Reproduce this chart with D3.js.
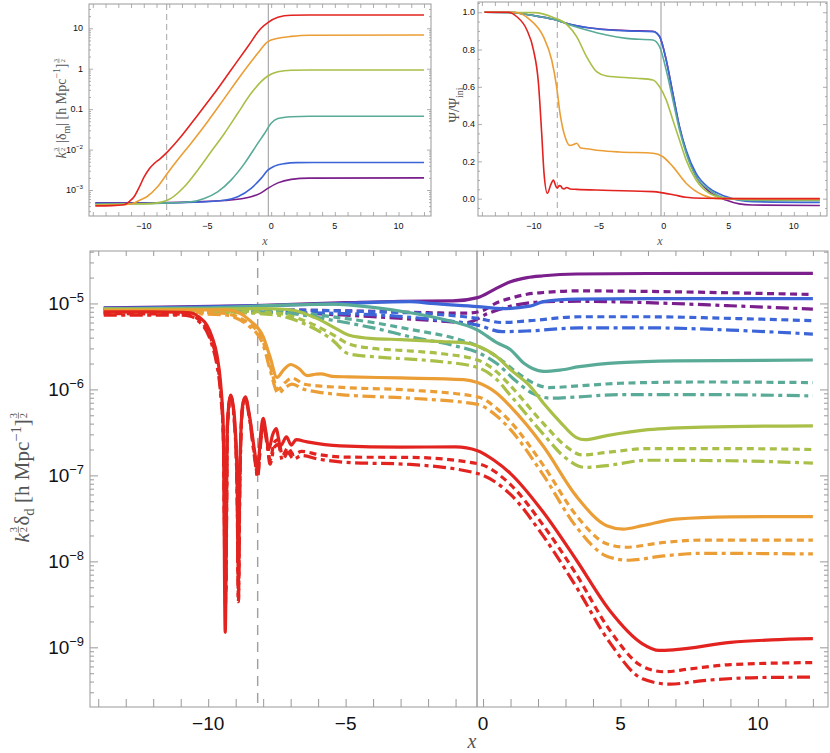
<!DOCTYPE html>
<html>
<head>
<meta charset="utf-8">
<script src="https://cdnjs.cloudflare.com/ajax/libs/d3/7.8.5/d3.min.js"></script>
<style>
  body { margin: 0; background: #fff; }
  svg { display: block; font-family: "Liberation Sans", Arial, sans-serif; }
  .tick line { stroke: #999; }
  .domain { display: none; }
  .math { font-family: "Liberation Serif", "Times New Roman", serif; fill: #555; white-space: pre; }
</style>
</head>
<body>
<svg id="chart" width="830" height="753"></svg>
<script>
// ---- data ----
const xDomain = [-14.3, 12.55];
const xRefDashed = -8.2;
const xRefSolid = -0.22;
const xTickValues = [-10, -5, 0, 5, 10];
const xTickLabels = ["\u221210", "\u22125", "0", "5", "10"];

// order: purple, blue, teal, green, orange, red
const colors = ["#7b1f8d", "#3c65d8", "#59ab98", "#a8bf48", "#eb9e36", "#e2231f"];

// top left: k^{3/2} |delta_m|
const dmPurple = [[-13.8,4.8e-4],[-10,4.8e-4],[-6,5.1e-4],[-3.67,5.5e-4],[-1.57,6.8e-4],[-0.79,8.5e-4],[-0.26,1.1e-3],[0.53,1.5e-3],[1.57,1.83e-3],[3,1.97e-3],[12,2.0e-3]];
const dmBlue = [[-13.8,4.7e-4],[-10,4.7e-4],[-6,5.0e-4],[-3.67,5.6e-4],[-2.62,6.8e-4],[-1.57,1.1e-3],[-0.79,1.94e-3],[-0.26,3.1e-3],[0.26,3.9e-3],[1.05,4.5e-3],[2,4.75e-3],[4,4.8e-3],[12,4.8e-3]];
const dmTeal = [[-13.8,4.5e-4],[-10,4.6e-4],[-8,4.8e-4],[-6.3,5.1e-4],[-5.25,6.2e-4],[-4.2,9e-4],[-3.15,1.76e-3],[-2.1,4.5e-3],[-1.05,1.42e-2],[-0.52,2.5e-2],[0,4.5e-2],[0.53,5.9e-2],[1.57,6.5e-2],[3,6.7e-2],[12,6.7e-2]];
const dmGreen = [[-13.8,4.3e-4],[-11,4.5e-4],[-9.5,4.6e-4],[-8.92,4.8e-4],[-7.87,6.2e-4],[-6.82,1.2e-3],[-5.77,3.1e-3],[-4.72,8.8e-3],[-3.67,2.5e-2],[-2.62,7.9e-2],[-1.57,0.246],[-0.79,0.48],[-0.26,0.66],[0.53,0.84],[1.57,0.92],[3,0.93],[12,0.93]];
const dmOrange = [[-13.8,4.2e-4],[-12,4.3e-4],[-11,4.5e-4],[-10.76,4.8e-4],[-10.2,5.8e-4],[-9.71,7.0e-4],[-8.92,1.2e-3],[-8.14,2.6e-3],[-7.35,5.5e-3],[-6.3,1.42e-2],[-4.99,4.9e-2],[-3.67,0.185],[-2.36,0.70],[-1.05,2.4],[-0.26,4.66],[0.53,5.65],[1.57,6.3],[3,6.75],[12,6.8]];
const dmRed = [[-13.8,4.05e-4],[-12.5,4.1e-4],[-11.55,4.3e-4],[-11.1,5.3e-4],[-10.76,6.8e-4],[-10.4,1.1e-3],[-9.97,2.1e-3],[-9.55,3.4e-3],[-9.19,4.5e-3],[-8.7,6.0e-3],[-8.14,8.8e-3],[-7.09,2.07e-2],[-5.77,7.1e-2],[-4.46,0.246],[-3.15,0.93],[-1.84,3.5],[-0.79,10],[-0.26,13.8],[0.53,18.7],[1.57,21.0],[3,21.3],[12,21.3]];

// top right: Psi / Psi_ini
const psiPurple = [[-13.8,1.0],[-11.5,0.998],[-10.29,0.985],[-8.5,0.962],[-7.23,0.935],[-5.95,0.918],[-4.93,0.91],[-2.88,0.902],[-0.84,0.898],[-0.33,0.87],[0.18,0.744],[0.69,0.565],[1.2,0.386],[1.71,0.255],[2.48,0.12],[3.5,0.038],[4.78,-0.007],[5.8,-0.028],[6.8,-0.034],[12,-0.037]];
const psiBlue = [[-13.8,1.0],[-11.5,0.998],[-10.29,0.985],[-8.5,0.962],[-7.23,0.935],[-5.95,0.918],[-4.93,0.909],[-2.88,0.90],[-0.84,0.896],[-0.33,0.869],[0.18,0.744],[0.69,0.565],[1.2,0.386],[1.71,0.261],[2.48,0.136],[3.5,0.056],[4.78,0.011],[6.8,-0.016],[12,-0.02]];
const psiTeal = [[-13.8,1.0],[-11.5,0.998],[-10.29,0.985],[-8.5,0.962],[-7.23,0.932],[-5.95,0.905],[-4.41,0.878],[-2.88,0.86],[-0.84,0.851],[-0.33,0.815],[0.18,0.69],[0.69,0.53],[1.2,0.369],[1.71,0.244],[2.48,0.118],[3.5,0.047],[4.78,0.002],[6.8,-0.01],[12,-0.01]];
const psiGreen = [[-13.8,1.0],[-10,0.998],[-8.5,0.972],[-7.48,0.935],[-6.71,0.869],[-5.95,0.762],[-5.18,0.681],[-4.41,0.658],[-2.11,0.646],[-0.84,0.637],[-0.33,0.60],[0.18,0.53],[0.69,0.422],[1.2,0.315],[1.71,0.208],[2.48,0.10],[3.5,0.029],[4.78,0.002],[6.8,-0.006],[12,-0.007]];
const psiOrange = [[-13.8,1.0],[-11.5,1.0],[-10.29,0.959],[-9.27,0.869],[-8.63,0.744],[-8.25,0.60],[-7.99,0.458],[-7.61,0.333],[-7.23,0.285],[-6.95,0.29],[-6.71,0.297],[-6.4,0.272],[-5.95,0.268],[-4.93,0.258],[-3.4,0.25],[-0.84,0.244],[-0.07,0.225],[0.69,0.172],[1.71,0.083],[2.99,0.02],[4.27,0.0],[12,-0.001]];
const psiRed = [[-13.8,1.0],[-12,1.0],[-11.31,0.976],[-10.54,0.905],[-10.04,0.80],[-9.65,0.62],[-9.4,0.35],[-9.22,0.136],[-8.96,0.029],[-8.7,0.075],[-8.5,0.10],[-8.3,0.065],[-8.2,0.056],[-8.05,0.07],[-7.94,0.068],[-7.8,0.055],[-7.68,0.052],[-7.48,0.06],[-7.2,0.052],[-6.71,0.050],[-4.67,0.045],[-0.84,0.038],[-0.07,0.031],[0.8,0.02],[1.71,0.0075],[3,0.002],[6,0.0],[12,0.0]];

// bottom: k^{3/2} delta_d, solid / dashed / dot-dashed
const ddPurpleSolid = [[-13.8,8.9e-6],[-11,9.1e-6],[-8,9.5e-6],[-5,1.02e-5],[-3,1.06e-5],[-1.1,1.07e-5],[-0.2,1.17e-5],[0.4,1.45e-5],[1,1.79e-5],[1.6,2.0e-5],[2.2,2.1e-5],[3.4,2.2e-5],[6,2.23e-5],[12,2.24e-5]];
const ddPurpleDash = [[-13.8,8.3e-6],[-8,8.4e-6],[-4,8.1e-6],[-2,7.8e-6],[-0.6,7.7e-6],[0,8.3e-6],[0.5,1.02e-5],[1.0,1.15e-5],[1.6,1.28e-5],[2.2,1.34e-5],[3.4,1.4e-5],[6,1.38e-5],[9,1.33e-5],[12,1.27e-5]];
const ddPurpleDot = [[-13.8,7.9e-6],[-8,7.9e-6],[-4,7.0e-6],[-2,6.4e-6],[-0.6,6.0e-6],[0.2,7.7e-6],[1.2,9.6e-6],[2.3,1.05e-5],[3.5,1.06e-5],[6,1.02e-5],[9,9.4e-6],[12,8.6e-6]];
const ddBlueSolid = [[-13.8,8.8e-6],[-11,9.0e-6],[-8,9.4e-6],[-5,1.0e-5],[-2.65,1.05e-5],[-1.9,1.0e-5],[-0.2,9.2e-6],[0.7,8.7e-6],[1.7,9.3e-6],[2.2,1.05e-5],[3.4,1.12e-5],[6,1.14e-5],[12,1.14e-5]];
const ddBlueDash = [[-13.8,8.4e-6],[-8,8.4e-6],[-4,8.0e-6],[-2,7.6e-6],[-0.2,6.7e-6],[0.7,6.0e-6],[1.7,6.3e-6],[3.5,7.0e-6],[6,7.0e-6],[9,6.7e-6],[12,6.3e-6]];
const ddBlueDot = [[-13.8,8.0e-6],[-8,7.9e-6],[-4,7.4e-6],[-2,6.6e-6],[-0.2,5.6e-6],[0.7,4.7e-6],[1.7,4.8e-6],[3.5,5.2e-6],[6,5.2e-6],[9,4.9e-6],[12,4.4e-6]];
const ddTealSolid = [[-13.8,8.7e-6],[-10,8.9e-6],[-7,9.6e-6],[-5.5,9.8e-6],[-4,9.0e-6],[-2.65,7.8e-6],[-1.5,6.6e-6],[-0.2,4.9e-6],[0.5,3.5e-6],[1.0,2.9e-6],[1.5,2.0e-6],[1.8,1.75e-6],[2.2,1.62e-6],[2.8,1.68e-6],[3.5,1.84e-6],[5,2.05e-6],[7,2.15e-6],[12,2.2e-6]];
const ddTealDash = [[-13.8,8.3e-6],[-9,8.3e-6],[-7,8.0e-6],[-5.5,7.0e-6],[-4,6.0e-6],[-2.65,5.0e-6],[-1,3.9e-6],[-0.2,3.2e-6],[0.5,2.4e-6],[1.2,1.6e-6],[1.8,1.2e-6],[2.4,1.05e-6],[3.5,1.1e-6],[5,1.18e-6],[8,1.22e-6],[12,1.2e-6]];
const ddTealDot = [[-13.8,8.0e-6],[-9,8.0e-6],[-7,7.6e-6],[-5.5,6.4e-6],[-4,5.2e-6],[-2.65,4.1e-6],[-1,3.2e-6],[-0.2,2.7e-6],[0.5,2.0e-6],[1.2,1.25e-6],[1.8,9.0e-7],[2.5,7.9e-7],[3.5,8.2e-7],[5,8.7e-7],[8,8.7e-7],[12,8.4e-7]];
const ddGreenSolid = [[-13.8,8.6e-6],[-10,8.6e-6],[-8,8.7e-6],[-7.1,8.5e-6],[-6.05,6.7e-6],[-5.3,5.0e-6],[-4.9,4.3e-6],[-4,3.9e-6],[-3,3.8e-6],[-1.5,3.6e-6],[-0.7,3.5e-6],[-0.2,3.2e-6],[0.5,2.4e-6],[1.0,1.7e-6],[1.7,1.1e-6],[2.2,6.9e-7],[2.8,4.2e-7],[3.4,2.75e-7],[3.7,2.6e-7],[4.5,2.9e-7],[6,3.4e-7],[8,3.65e-7],[12,3.77e-7]];
const ddGreenDash = [[-13.8,8.1e-6],[-9,8.1e-6],[-7.5,7.7e-6],[-6.5,6.3e-6],[-5.5,4.4e-6],[-4.9,3.4e-6],[-4,3.0e-6],[-3,2.85e-6],[-1.5,2.6e-6],[-0.2,2.2e-6],[0.5,1.6e-6],[1.0,1.1e-6],[2.2,4.0e-7],[3.0,2.2e-7],[3.6,1.73e-7],[4.5,1.85e-7],[6,2.05e-7],[9,2.05e-7],[12,2.0e-7]];
const ddGreenDot = [[-13.8,7.8e-6],[-9,7.8e-6],[-7.5,7.3e-6],[-6.5,5.8e-6],[-5.5,3.8e-6],[-4.9,2.6e-6],[-4,2.4e-6],[-2.65,2.25e-6],[-1.5,2.1e-6],[-0.2,1.8e-6],[0.5,1.3e-6],[1.0,8.5e-7],[2.2,3.0e-7],[3.0,1.6e-7],[3.7,1.24e-7],[4.5,1.3e-7],[6,1.5e-7],[9,1.48e-7],[12,1.39e-7]];
const ddOrangeSolid = [[-13.8,8.3e-6],[-11,8.4e-6],[-9.3,8.4e-6],[-8.5,6.4e-6],[-8,4.1e-6],[-7.75,2.4e-6],[-7.5,1.38e-6],[-7.25,1.7e-6],[-7.0,1.95e-6],[-6.7,1.75e-6],[-6.4,1.45e-6],[-6.1,1.5e-6],[-5.9,1.52e-6],[-5.5,1.42e-6],[-4.9,1.4e-6],[-3,1.36e-6],[-0.7,1.3e-6],[-0.2,1.2e-6],[0.5,9.0e-7],[1.0,6.3e-7],[2.2,2.17e-7],[3.4,5.7e-8],[4.5,2.6e-8],[5.1,2.37e-8],[5.8,2.6e-8],[7,3.1e-8],[9,3.3e-8],[12,3.32e-8]];
const ddOrangeDash = [[-13.8,7.9e-6],[-11,7.9e-6],[-9.5,7.7e-6],[-8.5,5.8e-6],[-8,3.6e-6],[-7.75,1.9e-6],[-7.45,1.0e-6],[-7.2,1.2e-6],[-6.95,1.35e-6],[-6.5,1.15e-6],[-6.0,1.1e-6],[-5,1.05e-6],[-2.65,9.8e-7],[-0.2,8.2e-7],[0.5,6.0e-7],[1.0,4.2e-7],[2.2,1.3e-7],[3.4,3.4e-8],[4.5,1.6e-8],[5.2,1.46e-8],[6.5,1.65e-8],[8,1.77e-8],[12,1.77e-8]];
const ddOrangeDot = [[-13.8,7.6e-6],[-11,7.6e-6],[-9.5,7.4e-6],[-8.5,5.4e-6],[-8,3.3e-6],[-7.75,1.7e-6],[-7.45,9.0e-7],[-7.2,1.05e-6],[-6.95,1.15e-6],[-6.5,1.0e-6],[-6.0,9.3e-7],[-5,8.6e-7],[-2.65,7.9e-7],[-0.2,6.7e-7],[0.5,4.9e-7],[1.0,3.4e-7],[2.2,1.0e-7],[3.4,2.5e-8],[4.5,1.15e-8],[5.3,1.03e-8],[6.5,1.15e-8],[8,1.24e-8],[12,1.22e-8]];
const ddRedSolid = [[-13.8,8.0e-6],[-12,8.0e-6],[-11,7.9e-6],[-10.65,7.8e-6],[-10.3,6.8e-6],[-10.05,5.6e-6],[-9.85,4.0e-6],[-9.68,2.5e-6],[-9.55,1.2e-6],[-9.45,3.5e-7],[-9.38,1.5e-9],[-9.3,4.0e-7],[-9.18,8.6e-7],[-9.05,5.0e-7],[-8.95,1.0e-7],[-8.9,6e-9],[-8.85,1.0e-7],[-8.75,6.5e-7],[-8.65,8.2e-7],[-8.5,5.0e-7],[-8.3,1.8e-7],[-8.2,1.15e-7],[-8.1,2.8e-7],[-8.0,4.6e-7],[-7.9,3.2e-7],[-7.8,2.0e-7],[-7.65,3.0e-7],[-7.53,3.5e-7],[-7.37,2.2e-7],[-7.15,2.8e-7],[-6.98,2.25e-7],[-6.8,2.6e-7],[-6.4,2.45e-7],[-5.2,2.2e-7],[-3,2.13e-7],[-1,2.15e-7],[-0.2,1.94e-7],[0.4,1.5e-7],[1,1.05e-7],[2.2,3.7e-8],[3.4,1.03e-8],[4.6,2.7e-9],[5.8,1.1e-9],[6.4,9.2e-10],[7,9.4e-10],[9,1.14e-9],[10.5,1.22e-9],[12,1.26e-9]];
const ddRedDash = [[-13.8,7.6e-6],[-11,7.5e-6],[-10.65,7.3e-6],[-10.3,6.3e-6],[-10.05,5.0e-6],[-9.85,3.5e-6],[-9.68,2.1e-6],[-9.55,1.0e-6],[-9.45,3.0e-7],[-9.37,3e-9],[-9.3,3.8e-7],[-9.18,8.4e-7],[-9.05,4.5e-7],[-8.95,8e-8],[-8.9,3.4e-9],[-8.85,8e-8],[-8.75,6.3e-7],[-8.65,8.0e-7],[-8.5,4.8e-7],[-8.3,1.6e-7],[-8.2,1.0e-7],[-8.1,2.4e-7],[-8.0,4.0e-7],[-7.85,2.4e-7],[-7.75,1.5e-7],[-7.6,2.4e-7],[-7.45,2.6e-7],[-7.3,1.7e-7],[-7.1,2.1e-7],[-6.9,1.75e-7],[-6.6,1.9e-7],[-6,1.75e-7],[-5,1.63e-7],[-2.65,1.62e-7],[-0.2,1.37e-7],[1,7.8e-8],[2.2,2.6e-8],[3.4,7.0e-9],[4.6,1.6e-9],[5.8,6.0e-10],[6.6,5.2e-10],[7.5,5.6e-10],[9,6.3e-10],[12,6.65e-10]];
const ddRedDot = [[-13.8,7.3e-6],[-11,7.3e-6],[-10.65,7.1e-6],[-10.3,6.0e-6],[-10.05,4.7e-6],[-9.85,3.2e-6],[-9.68,1.9e-6],[-9.55,9.0e-7],[-9.45,2.7e-7],[-9.36,4e-9],[-9.3,3.6e-7],[-9.18,8.2e-7],[-9.05,4.2e-7],[-8.95,7e-8],[-8.9,3.4e-9],[-8.85,7e-8],[-8.75,6.0e-7],[-8.65,7.8e-7],[-8.5,4.6e-7],[-8.3,1.5e-7],[-8.2,9.5e-8],[-8.1,2.2e-7],[-8.0,3.7e-7],[-7.85,2.2e-7],[-7.75,1.35e-7],[-7.6,2.1e-7],[-7.45,2.3e-7],[-7.3,1.5e-7],[-7.1,1.85e-7],[-6.9,1.55e-7],[-6.6,1.7e-7],[-6,1.55e-7],[-5,1.42e-7],[-2.65,1.34e-7],[-0.2,1.05e-7],[1,6.0e-8],[2.2,1.95e-8],[3.4,5.0e-9],[4.6,1.15e-9],[5.8,4.3e-10],[6.8,3.73e-10],[8,4.1e-10],[10,4.45e-10],[12,4.5e-10]];

// ---- drawing ----
const svg = d3.select("#chart");
const dashStyle = { solid: null, dash: "7,4.5", dot: "13,4.5,4,4.5" };

function supLabel(sel, x, y, base, exp, size, anchor) {
  const t = sel.append("text").attr("x", x).attr("y", y)
    .attr("text-anchor", anchor).style("font-size", size + "px").attr("fill", "#111");
  t.append("tspan").text(base);
  if (exp) t.append("tspan").attr("dy", -size * 0.42).style("font-size", (size * 0.68) + "px").text(exp);
  return t;
}

// math label made of pieces laid out left to right, then rotated
function mathLabel(g, pieces, size) {
  let cx = 0;
  pieces.forEach(p => {
    if (p.frac) {
      const fs = size * 0.5;
      const top = -size * 0.58;
      const a = g.append("text").attr("class", "math").attr("y", top).style("font-size", fs + "px").text(p.frac[0]);
      const b = g.append("text").attr("class", "math").attr("y", top + fs * 0.95).style("font-size", fs + "px").text(p.frac[1]);
      const w = Math.max(a.node().getComputedTextLength(), b.node().getComputedTextLength()) + 1;
      a.attr("x", cx + 1);
      b.attr("x", cx + 1);
      g.append("line").attr("x1", cx + 0.5).attr("x2", cx + w + 0.5)
        .attr("y1", top + fs * 0.15).attr("y2", top + fs * 0.15)
        .attr("stroke", "#555").attr("stroke-width", Math.max(0.6, size / 30));
      cx += w + 1.5;
    } else {
      const fs = size * (p.s || 1);
      const t = g.append("text").attr("class", "math").attr("xml:space", "preserve")
        .attr("x", cx).attr("y", (p.dy || 0) * size)
        .style("font-size", fs + "px").style("font-style", p.it ? "italic" : "normal").text(p.t);
      cx += t.node().getComputedTextLength();
    }
  });
  return cx;
}

function logTicks(domain) {
  const major = [], minor = [];
  const lo = Math.floor(Math.log10(domain[0])), hi = Math.ceil(Math.log10(domain[1]));
  for (let k = lo; k <= hi; k++) {
    for (let j = 1; j <= 9; j++) {
      const v = j * Math.pow(10, k);
      if (v < domain[0] || v > domain[1]) continue;
      (j === 1 ? major : minor).push(v);
    }
  }
  return { major, minor };
}

function drawPanel(cfg) {
  const x = cfg.x, y = cfg.y;
  const [L, R] = x.range(), [B, T] = y.range();
  const g = svg.append("g");
  const clipId = "clip-" + cfg.id;
  svg.append("clipPath").attr("id", clipId).append("rect")
    .attr("x", L).attr("y", T).attr("width", R - L).attr("height", B - T);

  // reference lines
  g.append("line").attr("x1", x(xRefDashed)).attr("x2", x(xRefDashed)).attr("y1", T).attr("y2", B)
    .attr("stroke", "#a0a0a0").attr("stroke-width", cfg.refW * 0.8).attr("stroke-dasharray", cfg.refDash);
  g.append("line").attr("x1", x(xRefSolid)).attr("x2", x(xRefSolid)).attr("y1", T).attr("y2", B)
    .attr("stroke", "#ababab").attr("stroke-width", cfg.refW);

  // curves
  const line = d3.line().x(d => x(d[0])).y(d => y(d[1])).curve(d3.curveMonotoneX);
  const cg = g.append("g").attr("clip-path", "url(#" + clipId + ")");
  cfg.series.forEach(s => {
    cg.append("path").attr("d", line(s.data)).attr("fill", "none")
      .attr("stroke", s.color).attr("stroke-width", cfg.lw)
      .attr("stroke-dasharray", dashStyle[s.style || "solid"])
      .attr("stroke-linejoin", "round");
  });

  // frame
  g.append("rect").attr("x", L).attr("y", T).attr("width", R - L).attr("height", B - T)
    .attr("fill", "none").attr("stroke", "#999").attr("stroke-width", 1);

  // x ticks (inward, bottom and top)
  const xMajor = d3.range(Math.ceil(xDomain[0]), Math.floor(xDomain[1]) + 1);
  g.append("g").attr("transform", "translate(0," + B + ")")
    .call(d3.axisBottom(x).tickValues(xMajor).tickSize(-cfg.xt[0]).tickFormat(""));
  g.append("g").attr("transform", "translate(0," + T + ")")
    .call(d3.axisTop(x).tickValues(xMajor).tickSize(-cfg.xt[1]).tickFormat(""));

  // y ticks
  let yMajor, yMinor;
  if (cfg.log) { const t = logTicks(y.domain()); yMajor = t.major; yMinor = t.minor; }
  else { yMajor = cfg.yMajor; yMinor = cfg.yMinor; }
  [[d3.axisLeft, L], [d3.axisRight, R]].forEach(([ax, pos]) => {
    g.append("g").attr("transform", "translate(" + pos + ",0)")
      .call(ax(y).tickValues(yMajor).tickSize(-cfg.yt[0]).tickFormat(""));
    g.append("g").attr("transform", "translate(" + pos + ",0)")
      .call(ax(y).tickValues(yMinor).tickSize(-cfg.yt[1]).tickFormat(""));
  });
  g.selectAll(".tick line").attr("stroke", "#999").attr("stroke-width", cfg.tw);

  // tick labels
  xTickValues.forEach((v, i) => {
    g.append("text").attr("x", x(v)).attr("y", cfg.xLabY).attr("text-anchor", "middle")
      .style("font-size", cfg.fs + "px").attr("fill", "#111").text(xTickLabels[i]);
  });
  cfg.yLabels.forEach(d => {
    supLabel(g, L - cfg.yLabGap, y(d.v) + cfg.fs * 0.35, d.base, d.exp, cfg.fs, "end");
  });

  // x axis title
  g.append("text").attr("class", "math").attr("x", cfg.xTitle[0]).attr("y", cfg.xTitle[1])
    .attr("text-anchor", "middle").style("font-size", cfg.xTitle[2] + "px").style("font-style", "italic").text("x");

  // y axis title
  const tg = g.append("g");
  const w = mathLabel(tg, cfg.yTitle.pieces, cfg.yTitle.size);
  tg.attr("transform", "translate(" + cfg.yTitle.x + "," + (cfg.yTitle.y + w / 2) + ") rotate(-90)");
}

function seriesSet(list, style) {
  return list.map((d, i) => ({ data: d, color: colors[i], style }));
}

// top left
drawPanel({
  id: "dm",
  x: d3.scaleLinear().domain(xDomain).range([89, 431]),
  y: d3.scaleLog().domain([Math.pow(10, -3.643), Math.pow(10, 1.601)]).range([216, 4]),
  log: true,
  series: seriesSet([dmPurple, dmBlue, dmTeal, dmGreen, dmOrange, dmRed], "solid"),
  lw: 1.6, refW: 1.2, refDash: "6,4", xt: [4, 4], yt: [4, 2], tw: 0.8,
  fs: 9, xLabY: 229, yLabGap: 6,
  yLabels: [{ v: 10, base: "10" }, { v: 1, base: "1" }, { v: 0.1, base: "0.1" },
            { v: 1e-2, base: "10", exp: "\u22122" }, { v: 1e-3, base: "10", exp: "\u22123" }],
  xTitle: [265, 245, 12],
  yTitle: { x: 66, y: 108, size: 14, pieces: [
    { t: "k", it: true }, { frac: ["3", "2"] }, { t: " |\u03b4" }, { t: "m", s: 0.7, dy: 0.25 }, { t: "| [h Mpc" },
    { t: "\u22121", s: 0.7, dy: -0.4 }, { t: "]" }, { frac: ["3", "2"] }] }
});

// top right
drawPanel({
  id: "psi",
  x: d3.scaleLinear().domain(xDomain).range([478, 827]),
  y: d3.scaleLinear().domain([-0.093, 1.055]).range([216, 2]),
  log: false,
  yMajor: [0, 0.2, 0.4, 0.6, 0.8, 1.0],
  yMinor: d3.range(-0.05, 1.051, 0.05).filter(v => Math.abs(Math.round(v * 5) - v * 5) > 0.01),
  series: seriesSet([psiPurple, psiBlue, psiTeal, psiGreen, psiOrange, psiRed], "solid"),
  lw: 1.6, refW: 1.2, refDash: "6,4", xt: [4, 4], yt: [4, 2], tw: 0.8,
  fs: 9, xLabY: 229, yLabGap: 3,
  yLabels: [0, 0.2, 0.4, 0.6, 0.8, 1.0].map(v => ({ v, base: v.toFixed(1) })),
  xTitle: [660, 245, 12],
  yTitle: { x: 459, y: 105, size: 14, pieces: [
    { t: "\u03a8" }, { t: "/" }, { t: "\u03a8" }, { t: "ini", s: 0.7, dy: 0.25 }] }
});

// bottom
const ddSeries = [];
[[ddPurpleDot, ddPurpleDash, ddPurpleSolid], [ddBlueDot, ddBlueDash, ddBlueSolid],
 [ddTealDot, ddTealDash, ddTealSolid], [ddGreenDot, ddGreenDash, ddGreenSolid],
 [ddOrangeDot, ddOrangeDash, ddOrangeSolid], [ddRedDot, ddRedDash, ddRedSolid]].forEach((trio, i) => {
  ["dot", "dash", "solid"].forEach((st, j) => ddSeries.push({ data: trio[j], color: colors[i], style: st }));
});

drawPanel({
  id: "dd",
  x: d3.scaleLinear().domain(xDomain).range([90, 828]),
  y: d3.scaleLog().domain([Math.pow(10, -9.694), Math.pow(10, -4.39)]).range([707, 251]),
  log: true,
  series: ddSeries,
  lw: 3.2, refW: 1.8, refDash: "10,7", xt: [8, 5], yt: [8, 4], tw: 1,
  fs: 19, xLabY: 730, yLabGap: 6,
  yLabels: [-9, -8, -7, -6, -5].map(k => ({ v: Math.pow(10, k), base: "10", exp: "\u2212" + (-k) })),
  xTitle: [472, 748, 20],
  yTitle: { x: 29, y: 477, size: 21, pieces: [
    { t: "k", it: true }, { frac: ["3", "2"] }, { t: "\u03b4" }, { t: "d", s: 0.7, dy: 0.25 }, { t: " [h Mpc" },
    { t: "\u22121", s: 0.7, dy: -0.4 }, { t: "]" }, { frac: ["3", "2"] }] }
});
</script>
</body>
</html>
